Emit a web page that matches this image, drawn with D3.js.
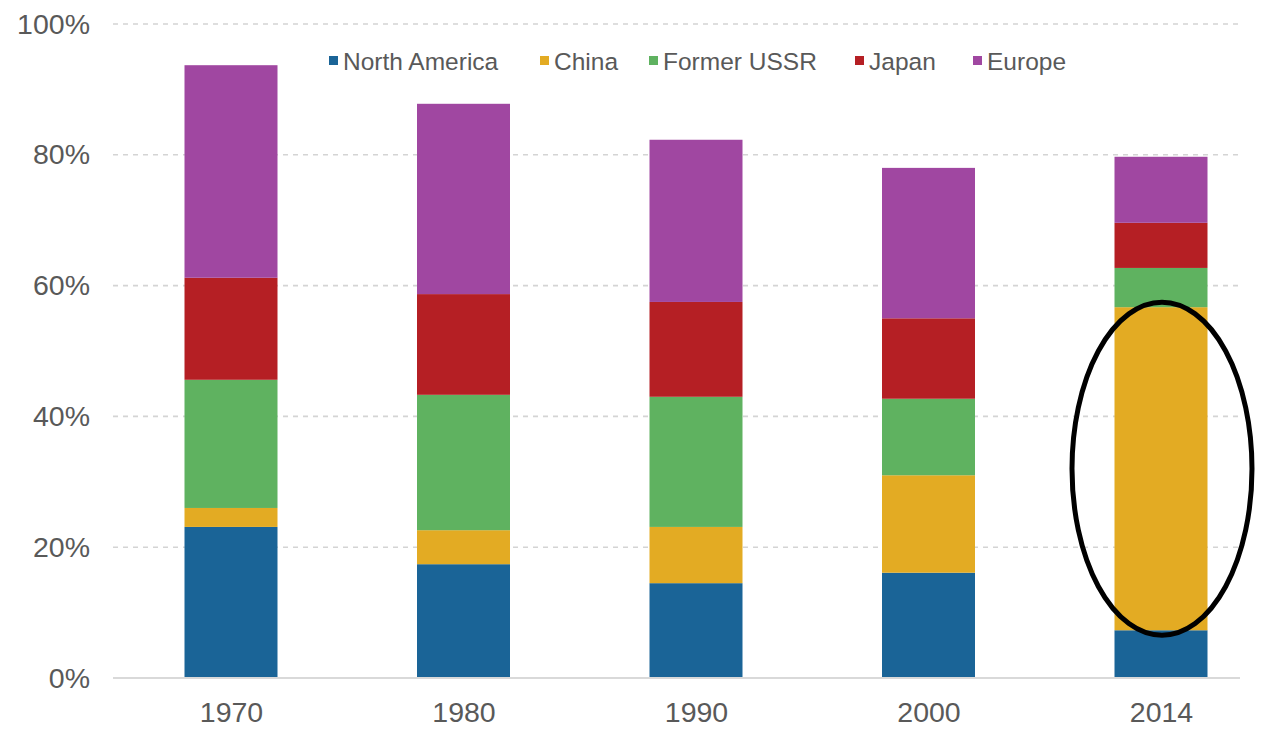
<!DOCTYPE html>
<html><head><meta charset="utf-8">
<script src="https://cdn.jsdelivr.net/npm/d3@7"></script>
<style>body{margin:0;background:#fff}svg{display:block}</style>
</head><body>
<svg id="c" width="1261" height="730"></svg>
<script>
const years = ["1970","1980","1990","2000","2014"];
const seriesNames = ["North America","China","Former USSR","Japan","Europe"];
const northAmerica = [23.1,17.4,14.5,16.1,7.3];
const china = [2.9,5.2,8.6,14.9,49.4];
const formerUSSR = [19.6,20.7,19.9,11.7,6.0];
const japan = [15.6,15.4,14.5,12.3,6.9];
const europe = [32.5,29.1,24.8,23.0,10.1];
const colors = ["#1a6497","#e3ab23","#5fb260","#b51f24","#a047a1"];
const yTicks = [0,20,40,60,80,100];

const seriesVals = [northAmerica, china, formerUSSR, japan, europe];
const rows = years.map((yr,i)=>{const r={year:yr}; seriesNames.forEach((s,j)=>r[s]=seriesVals[j][i]); return r;});
const stack = d3.stack().keys(seriesNames)(rows);

const svg = d3.select("#c");
const y = d3.scaleLinear().domain([0,100]).range([678,24]);
const x = d3.scalePoint().domain(years).range([231,1161]);
const bw = 93;
const gridX0 = 113, gridX1 = 1240;
const FONT = "Liberation Sans, Arial, sans-serif";

// grid
svg.append("g").selectAll("line").data(yTicks.filter(d=>d>0)).join("line")
  .attr("x1",gridX0).attr("x2",gridX1).attr("y1",d=>y(d)).attr("y2",d=>y(d))
  .attr("stroke","#d4d4d4").attr("stroke-width",1.6).attr("stroke-dasharray","5,5");

// y axis labels
const yAxis = d3.axisLeft(y).tickValues(yTicks).tickFormat(d=>d+"%").tickSize(0).tickPadding(0);
const gy = svg.append("g").attr("transform","translate(90,0)").call(yAxis);
gy.select(".domain").remove();
gy.selectAll("text").attr("font-family",FONT).attr("font-size",28.5).attr("fill","#595959");

// bars
svg.append("g").selectAll("g").data(stack).join("g").attr("fill",(d,i)=>colors[i])
  .selectAll("rect").data(d=>d).join("rect")
  .attr("x",d=>x(d.data.year)-bw/2).attr("width",bw)
  .attr("y",d=>y(d[1])).attr("height",d=>y(d[0])-y(d[1]));

// baseline
svg.append("line").attr("x1",gridX0).attr("x2",gridX1).attr("y1",y(0)).attr("y2",y(0))
  .attr("stroke","#d9d9d9").attr("stroke-width",2);

// x axis labels
const xAxis = d3.axisBottom(x).tickSize(0).tickPadding(0);
const gx = svg.append("g").attr("transform",`translate(0,${y(0)+24})`).call(xAxis);
gx.select(".domain").remove();
gx.selectAll("text").attr("font-family",FONT).attr("font-size",28.5).attr("fill","#595959").attr("dy","0.71em");

// legend
const legendX = [333,544,653,859,977];
const lg = svg.append("g");
seriesNames.forEach((s,i)=>{
  lg.append("rect").attr("x",legendX[i]-4).attr("y",56).attr("width",9).attr("height",9).attr("fill",colors[i]);
  lg.append("text").attr("x",legendX[i]+10).attr("y",61).attr("dy","0.35em")
    .attr("font-family",FONT).attr("font-size",24.5).attr("fill","#595959").text(s);
});

// annotation ellipse around 2014 China segment
const last = years.length-1;
const cTop = y(china[last]+northAmerica[last]), cBot = y(northAmerica[last]);
svg.append("ellipse").attr("cx",x("2014")+1).attr("cy",(cTop+cBot)/2)
  .attr("rx",90).attr("ry",(cBot-cTop)/2+5)
  .attr("fill","none").attr("stroke","#000").attr("stroke-width",5);
</script>
</body></html>
